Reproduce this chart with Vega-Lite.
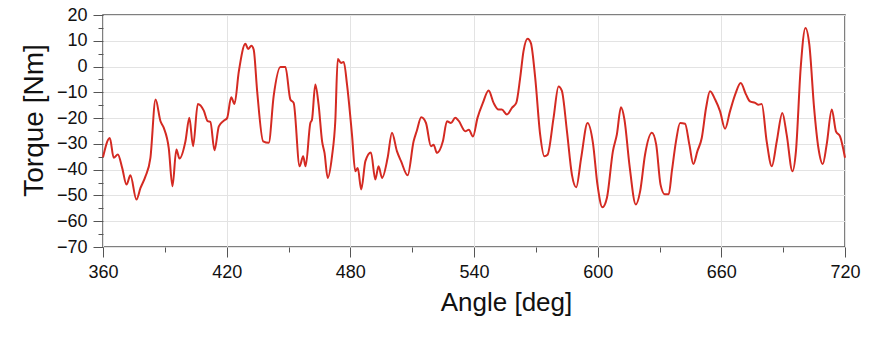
{
  "$schema": "https://vega.github.io/schema/vega-lite/v6.json",
  "width": 742,
  "height": 232,
  "autosize": "none",
  "padding": {"left": 103, "top": 15, "right": 46, "bottom": 98},
  "background": "white",
  "config": {
    "font": "Liberation Sans",
    "view": {"stroke": "#555555", "strokeWidth": 1.5}
  },
  "data": {"values": [
    {"angle": 360, "torque": -35.2}, {"angle": 363.3, "torque": -27.7}, {"angle": 365.2, "torque": -35.4},
    {"angle": 367.2, "torque": -34.1}, {"angle": 369.3, "torque": -39.3}, {"angle": 371.4, "torque": -45.8},
    {"angle": 373.3, "torque": -42.2}, {"angle": 376.2, "torque": -51.6}, {"angle": 378.2, "torque": -47.1},
    {"angle": 380.6, "torque": -42.6}, {"angle": 383, "torque": -35.4}, {"angle": 385.5, "torque": -12.8},
    {"angle": 387.9, "torque": -21.2}, {"angle": 389.5, "torque": -23.8}, {"angle": 391.9, "torque": -31.6},
    {"angle": 393.7, "torque": -46.4}, {"angle": 395.6, "torque": -32.2}, {"angle": 397.1, "torque": -35.7},
    {"angle": 400, "torque": -29.0}, {"angle": 401.9, "torque": -19.9}, {"angle": 403.7, "torque": -30.9},
    {"angle": 406, "torque": -14.5}, {"angle": 408.9, "torque": -17.1}, {"angle": 410.8, "torque": -21.2},
    {"angle": 412.1, "torque": -21.5}, {"angle": 414.1, "torque": -32.5}, {"angle": 416.2, "torque": -23.2},
    {"angle": 418.6, "torque": -21.0}, {"angle": 420.2, "torque": -20.0}, {"angle": 422.2, "torque": -11.9},
    {"angle": 423.8, "torque": -14.5}, {"angle": 425.9, "torque": -1.9}, {"angle": 429.1, "torque": 8.8},
    {"angle": 430.4, "torque": 6.8}, {"angle": 432, "torque": 8.1}, {"angle": 433.1, "torque": 6.6},
    {"angle": 434.8, "torque": -9.6}, {"angle": 437.7, "torque": -29.0}, {"angle": 440.4, "torque": -29.6},
    {"angle": 442.8, "torque": -11.5}, {"angle": 446.1, "torque": -0.2}, {"angle": 448.5, "torque": -0.2},
    {"angle": 450.9, "torque": -12.8}, {"angle": 452.5, "torque": -14.1}, {"angle": 455.4, "torque": -38.7},
    {"angle": 457.1, "torque": -34.8}, {"angle": 458.3, "torque": -38.7}, {"angle": 460.6, "torque": -21.9},
    {"angle": 461.4, "torque": -20.6}, {"angle": 463, "torque": -7.0}, {"angle": 464.6, "torque": -14.8},
    {"angle": 466.3, "torque": -29.0}, {"angle": 467.5, "torque": -33.6}, {"angle": 469, "torque": -43.2},
    {"angle": 471.1, "torque": -34.8}, {"angle": 472.7, "torque": -21.2}, {"angle": 473.9, "torque": 2.9},
    {"angle": 475.5, "torque": 1.4}, {"angle": 476.8, "torque": 1.8}, {"angle": 478.4, "torque": -7.0},
    {"angle": 480.8, "torque": -26.4}, {"angle": 482.4, "torque": -40.6}, {"angle": 483.6, "torque": -39.4},
    {"angle": 485.3, "torque": -47.7}, {"angle": 487.3, "torque": -36.7}, {"angle": 490, "torque": -33.3},
    {"angle": 492.1, "torque": -43.8}, {"angle": 493.7, "torque": -38.7}, {"angle": 495.4, "torque": -43.2},
    {"angle": 498.1, "torque": -35.4}, {"angle": 500.2, "torque": -25.7}, {"angle": 502.6, "torque": -32.8},
    {"angle": 504.6, "torque": -36.7}, {"angle": 507.8, "torque": -42.2}, {"angle": 510.7, "torque": -29.0},
    {"angle": 512.3, "torque": -24.8}, {"angle": 514.4, "torque": -19.7}, {"angle": 516.7, "torque": -21.9},
    {"angle": 519.1, "torque": -30.9}, {"angle": 520.4, "torque": -30.3}, {"angle": 522, "torque": -33.5},
    {"angle": 524.9, "torque": -29.0}, {"angle": 526.9, "torque": -21.2}, {"angle": 528.8, "torque": -21.9},
    {"angle": 530.9, "torque": -19.9}, {"angle": 532.5, "torque": -21.0}, {"angle": 535.8, "torque": -25.1},
    {"angle": 537.5, "torque": -24.5}, {"angle": 539.5, "torque": -27.1}, {"angle": 541.7, "torque": -19.9},
    {"angle": 544.3, "torque": -14.1}, {"angle": 547.1, "torque": -9.3}, {"angle": 549.5, "torque": -14.1},
    {"angle": 551.9, "torque": -16.7}, {"angle": 553.5, "torque": -16.7}, {"angle": 556, "torque": -18.6},
    {"angle": 558.4, "torque": -16.0}, {"angle": 560.5, "torque": -14.1}, {"angle": 562.4, "torque": -4.4},
    {"angle": 564, "torque": 5.9}, {"angle": 566, "torque": 10.8}, {"angle": 567.6, "torque": 9.1},
    {"angle": 569.7, "torque": -4.4}, {"angle": 572.1, "torque": -26.4}, {"angle": 574.1, "torque": -34.8},
    {"angle": 575.7, "torque": -34.2}, {"angle": 578.6, "torque": -19.9}, {"angle": 581, "torque": -7.7},
    {"angle": 582.6, "torque": -9.3}, {"angle": 585.1, "torque": -25.1}, {"angle": 587.5, "torque": -41.9},
    {"angle": 589.6, "torque": -46.8}, {"angle": 592, "torque": -35.4}, {"angle": 595.1, "torque": -21.9},
    {"angle": 597.7, "torque": -29.6}, {"angle": 599.9, "torque": -45.8}, {"angle": 602.3, "torque": -54.6},
    {"angle": 604.5, "torque": -50.9}, {"angle": 607.4, "torque": -32.8}, {"angle": 609.3, "torque": -26.4},
    {"angle": 611.3, "torque": -15.8}, {"angle": 613, "torque": -20.6}, {"angle": 615.4, "torque": -38.0},
    {"angle": 618.5, "torque": -53.5}, {"angle": 620.6, "torque": -48.4}, {"angle": 623, "torque": -34.1},
    {"angle": 626.3, "torque": -25.7}, {"angle": 628.4, "torque": -30.3}, {"angle": 630.5, "torque": -45.8},
    {"angle": 632.5, "torque": -49.5}, {"angle": 634.5, "torque": -49.5}, {"angle": 636, "torque": -40.6},
    {"angle": 638, "torque": -29.0}, {"angle": 640, "torque": -21.9}, {"angle": 642.4, "torque": -22.2},
    {"angle": 644.5, "torque": -30.3}, {"angle": 646.4, "torque": -37.8}, {"angle": 648.4, "torque": -32.8},
    {"angle": 650.5, "torque": -27.7}, {"angle": 652.6, "torque": -16.0}, {"angle": 654.5, "torque": -9.6},
    {"angle": 657, "torque": -12.8}, {"angle": 659.4, "torque": -17.4}, {"angle": 661.8, "torque": -24.1},
    {"angle": 664.2, "torque": -17.4}, {"angle": 666.7, "torque": -10.9}, {"angle": 669.4, "torque": -6.4},
    {"angle": 672, "torque": -10.9}, {"angle": 673.9, "torque": -13.5}, {"angle": 676.4, "torque": -14.1},
    {"angle": 678, "torque": -14.8}, {"angle": 679.6, "torque": -14.5}, {"angle": 682, "torque": -29.0},
    {"angle": 684.5, "torque": -38.7}, {"angle": 686.9, "torque": -29.0}, {"angle": 689.6, "torque": -18.0},
    {"angle": 691.7, "torque": -26.4}, {"angle": 694.5, "torque": -40.6}, {"angle": 696.2, "torque": -32.8},
    {"angle": 698.5, "torque": -0.5}, {"angle": 700.8, "torque": 15.0}, {"angle": 702.7, "torque": 8.5},
    {"angle": 705, "torque": -16.0}, {"angle": 707.1, "torque": -31.6}, {"angle": 709.2, "torque": -37.8},
    {"angle": 711.1, "torque": -30.3}, {"angle": 713.6, "torque": -16.7}, {"angle": 715.6, "torque": -25.1},
    {"angle": 717.6, "torque": -27.1}, {"angle": 720, "torque": -35.4}
  ]},
  "mark": {"type": "line", "color": "#d42a22", "strokeWidth": 2, "interpolate": "monotone"},
  "encoding": {
    "x": {
      "field": "angle", "type": "quantitative",
      "scale": {"domain": [360, 720], "nice": false, "zero": false},
      "axis": {
        "title": "Angle [deg]", "titleFontSize": 26, "titleFontWeight": "normal", "titleColor": "#111", "titlePadding": 8,
        "titleX": 403, "titleAnchor": "middle",
        "values": [360, 390, 420, 450, 480, 510, 540, 570, 600, 630, 660, 690, 720],
        "labelExpr": "datum.value % 60 === 0 ? datum.label : ''",
        "labelFontSize": 18, "labelColor": "#111", "labelPadding": 6, "labelFlush": false,
        "tickSize": {"condition": {"test": "datum.value % 60 === 0", "value": 10}, "value": 5},
        "tickColor": "#555", "domain": false,
        "gridColor": "#e3e3e3",
        "gridOpacity": {"condition": {"test": "datum.value % 60 === 0", "value": 1}, "value": 0}
      }
    },
    "y": {
      "field": "torque", "type": "quantitative",
      "scale": {"domain": [-70, 20], "nice": false, "zero": false},
      "axis": {
        "title": "Torque [Nm]", "titleFontSize": 28, "titleFontWeight": "normal", "titleColor": "#111", "titlePadding": 8,
        "titleY": 105, "titleAnchor": "middle",
        "values": [-70, -65, -60, -55, -50, -45, -40, -35, -30, -25, -20, -15, -10, -5, 0, 5, 10, 15, 20],
        "labelExpr": "datum.value % 10 === 0 ? datum.label : ''",
        "labelFontSize": 18, "labelColor": "#111", "labelPadding": 6, "labelFlush": false,
        "tickSize": {"condition": {"test": "datum.value % 10 === 0", "value": 10}, "value": 5},
        "tickColor": "#555", "domain": false,
        "gridColor": "#e3e3e3",
        "gridOpacity": {"condition": {"test": "datum.value % 10 === 0", "value": 1}, "value": 0}
      }
    }
  }
}
